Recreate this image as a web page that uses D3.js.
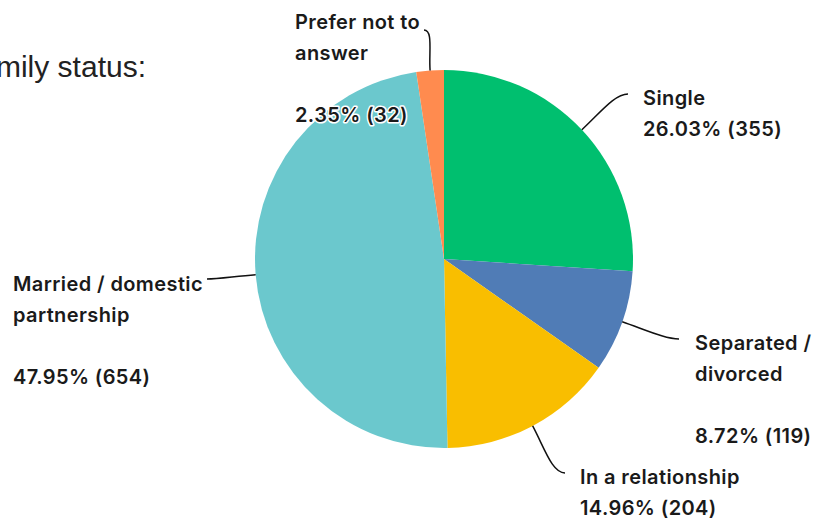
<!DOCTYPE html>
<html>
<head>
<meta charset="utf-8">
<script src="https://cdn.jsdelivr.net/npm/d3@7"></script>
<style>
  body { margin: 0; background: #fff; }
  svg { display: block; }
</style>
</head>
<body>
<div id="chart"></div>
<script>
// data
const categories = ["Single", "Separated / divorced", "In a relationship", "Married / domestic partnership", "Prefer not to answer"]
const responses = [355, 119, 204, 654, 32]
const colors = ["#00bf6f", "#507cb6", "#f9be00", "#6bc8cd", "#ff8b4f"]
// how each label breaks into lines (blank string = empty line before the numbers)
const labelLines = [
    ["Single"],
    ["Separated /", "divorced", ""],
    ["In a relationship"],
    ["Married / domestic", "partnership", ""],
    ["Prefer not to", "answer", ""]
]

const width = 826, height = 520
const cx = 444, cy = 259, radius = 189
const lineH = 31

// label placement: text anchor point (first baseline) and where the leader ends
const labelLayout = [
    { tx: 643, ty: 105, ex: 628, ey: 94 },
    { tx: 695, ty: 350, ex: 679, ey: 339 },
    { tx: 580, ty: 484, ex: 565, ey: 473 },
    { tx: 13, ty: 291, ex: 207, ey: 279 },
    { tx: 295, ty: 29, ex: 424, ey: 30 }
]

const svg = d3.select("#chart").append("svg")
    .attr("width", width).attr("height", height)

svg.append("text")
    .attr("x", 146).attr("y", 77)
    .attr("text-anchor", "end")
    .style("font-family", "'Liberation Sans', Arial, sans-serif")
    .style("font-size", "30px")
    .style("fill", "#222")
    .text("Family status:")

const total = d3.sum(responses)
const pct = d3.format(".2%")

const data = categories.map((c, i) => ({ name: c, value: responses[i], color: colors[i], lines: labelLines[i], pos: labelLayout[i] }))

const pie = d3.pie().sort(null).value(d => d.value)
const arc = d3.arc().innerRadius(0).outerRadius(radius)
const arcs = pie(data)

const g = svg.append("g").attr("transform", `translate(${cx},${cy})`)

g.selectAll("path.slice").data(arcs).enter().append("path")
    .attr("class", "slice")
    .attr("d", arc)
    .attr("fill", d => d.data.color)

// leader lines
const leaders = svg.append("g")
arcs.forEach(d => {
    const mid = (d.startAngle + d.endAngle) / 2,
        dx = Math.sin(mid), dy = -Math.cos(mid),
        x0 = cx + radius * dx, y0 = cy + radius * dy,
        p = d.data.pos,
        dist = Math.hypot(p.ex - x0, p.ey - y0),
        k = dist * 0.45,
        side = p.ex > x0 ? 1 : -1
    const path = d3.path()
    path.moveTo(x0, y0)
    path.bezierCurveTo(x0 + dx * k, y0 + dy * k, p.ex - side * k * 0.5, p.ey, p.ex, p.ey)
    leaders.append("path")
        .attr("d", path.toString())
        .attr("fill", "none")
        .attr("stroke", "#111")
        .attr("stroke-width", 1.5)
})

// labels
const labels = svg.append("g")
    .style("font-family", "Inter, Roboto, sans-serif")
    .style("font-weight", 600)
    .style("font-size", "20px")
    .style("letter-spacing", "0.4px")
arcs.forEach(d => {
    const p = d.data.pos,
        lines = d.data.lines.concat([`${pct(d.data.value / total)} (${d.data.value})`])
    const t = labels.append("text")
        .attr("x", p.tx).attr("y", p.ty)
        .style("fill", "#1a1a1a")
        .style("stroke", "#fff")
        .style("stroke-width", 3)
        .style("paint-order", "stroke")
        .style("stroke-linejoin", "round")
    lines.forEach((l, i) => {
        t.append("tspan").attr("x", p.tx).attr("y", p.ty + i * lineH).text(l)
    })
})
</script>
</body>
</html>
